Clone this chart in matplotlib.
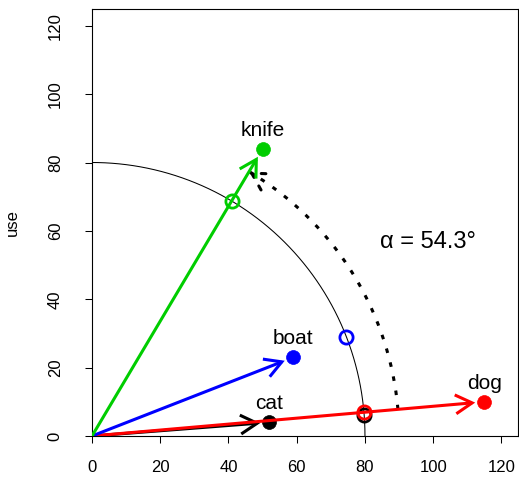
import numpy as np
import matplotlib
matplotlib.use("Agg")
import matplotlib.pyplot as plt
from matplotlib.patches import FancyArrowPatch

plt.rcParams['font.family'] = ['Liberation Sans', 'DejaVu Sans']

# data
words = ["cat", "dog", "boat", "knife"]
x_vals = [52, 115, 59, 50]
y_vals = [4, 10, 23, 84]
colors = ["black", "#FF0000", "#0000FF", "#00CD00"]
radius = 80
arc_radius = 90
angle_label = "α = 54.3°"
xticks = [0, 20, 40, 60, 80, 100, 120]
yticks = [0, 20, 40, 60, 80, 100, 120]
ylabel = "use"

fig = plt.figure(figsize=(5.19, 4.78), dpi=100)
ax = fig.add_axes([92/519, 1-436/478, (517.5-92)/519, (436-9)/478])
ax.set_xlim(0, 124.7)
ax.set_ylim(0, 124.9)

# arc of radius 80
t = np.linspace(0, np.pi/2, 300)
ax.plot(radius*np.cos(t), radius*np.sin(t), color='black', lw=0.75, zorder=1)

# filled points
for xv, yv, c in zip(x_vals, y_vals, colors):
    ax.plot(xv, yv, 'o', color=c, ms=10, mec='black' if c == 'black' else c, mew=0.5, zorder=3)

# projections onto circle (open)
for xv, yv, c in zip(x_vals, y_vals, colors):
    n = np.hypot(xv, yv)
    ax.plot(radius*xv/n, radius*yv/n, 'o', mfc='none', mec=c, ms=9.5, mew=2, zorder=4)

# arrows (shortened slightly)
shorten = 2.7
for xv, yv, c in zip(x_vals, y_vals, colors):
    n = np.hypot(xv, yv)
    ex, ey = xv*(n-shorten)/n, yv*(n-shorten)/n
    arr = FancyArrowPatch((0, 0), (ex, ey),
                          arrowstyle='->,head_length=1.2,head_width=0.68',
                          mutation_scale=10, color=c, lw=2.2,
                          shrinkA=0, shrinkB=0, zorder=5,
                          capstyle='butt', joinstyle='miter')
    ax.add_patch(arr)

# labels
for w, xv, yv in zip(words, x_vals, y_vals):
    ax.annotate(w, (xv, yv), xytext=(0, 9.5), textcoords='offset points',
                ha='center', va='baseline', fontsize=15, zorder=6)

# dotted angle arc
a0 = np.arctan2(y_vals[1], x_vals[1])
a1 = np.arctan2(y_vals[3], x_vals[3])
ta = np.linspace(a0, a1, 200)
ax.plot(arc_radius*np.cos(ta), arc_radius*np.sin(ta), color='black', lw=2.2,
        dashes=(1.5, 3.2), zorder=2)
ax.annotate("", xy=(arc_radius*np.cos(a1), arc_radius*np.sin(a1)),
            xytext=(arc_radius*np.cos(a1-0.02), arc_radius*np.sin(a1-0.02)),
            arrowprops=dict(arrowstyle='->,head_length=1.2,head_width=0.68',
                            mutation_scale=10, color='black', lw=2.2,
                            linestyle=(0, (1.5, 3.2)), shrinkA=0, shrinkB=0),
            zorder=2)

ax.text(98.4, 56.6, angle_label, ha='center', va='center', fontsize=17)

ax.set_xticks(xticks)
ax.set_yticks(yticks)
ax.tick_params(axis='both', direction='out', length=5, width=0.75, labelsize=12, color='black')
ax.tick_params(axis='x', pad=12)
ax.tick_params(axis='y', pad=16)
for lab in ax.get_yticklabels():
    lab.set_rotation(90)
    lab.set_va('center')
for s in ax.spines.values():
    s.set_linewidth(0.8)

fig.text(12/519, 1-223/478, ylabel, rotation=90, ha='center', va='center', fontsize=12)

fig.savefig("out.png", dpi=100)
